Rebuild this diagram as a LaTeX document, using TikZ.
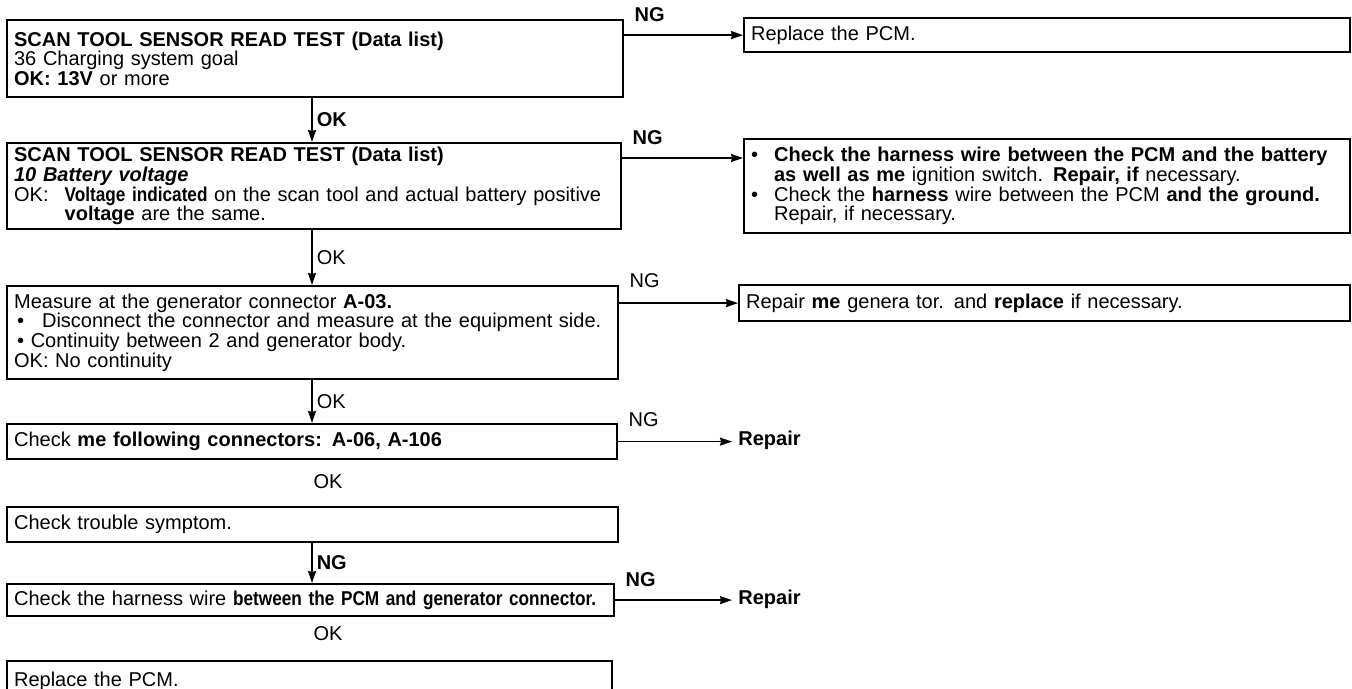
\documentclass[tikz,border=0pt]{standalone}
\usepackage{fontspec}
\setmainfont{Liberation Sans}
\newfontfamily\condfont{Liberation Sans}[FakeStretch=0.86]
\usepackage{tikz}
\usetikzlibrary{arrows.meta}

\newcommand{\cbf}[1]{{\condfont\bfseries #1}}

\begin{document}
\begin{tikzpicture}[
    x=0.5pt, y=-0.5pt,
    >=Stealth,
    every node/.style={font=\fontsize{10}{9.8}\selectfont},
    stepbox/.style={draw, line width=1.1pt, anchor=north west, align=left, inner xsep=3.5pt, inner ysep=0pt, text width=#1},
    ngtag/.style={anchor=base west, inner sep=0pt},
    oktag/.style={anchor=west, inner sep=2pt},
    repairtag/.style={anchor=west, inner sep=3pt},
    arr/.style={->, line width=0.75pt, >={Stealth[length=6pt, width=4pt, inset=0.5pt]}},
]
\useasboundingbox (0,0) rectangle (1352,689);

% === Left column: test steps (top to bottom) ===
\node[stepbox=301pt, minimum height=38.5pt] (scan1) at (6,19)
    {\textbf{SCAN TOOL SENSOR READ TEST (Data list)}\\36 Charging system goal\\\textbf{OK: 13V} or more};
\node[stepbox=300pt, minimum height=43pt] (scan2) at (6,142)
    {\textbf{SCAN TOOL SENSOR READ TEST (Data list)}\\\textbf{\textit{10 Battery voltage}}\\
     OK:\hspace{8pt}\cbf{Voltage indicated} on the scan tool and actual battery positive\\
     \hspace*{25.3pt}\textbf{voltage} are the same.};
\node[stepbox=298.5pt, minimum height=46.5pt] (gen) at (6,285)
    {Measure at the generator connector \textbf{A-03.}\\
     \hspace*{1.5pt}\textbullet\hspace{9pt}Disconnect the connector and measure at the equipment side.\\
     \hspace*{1.5pt}\textbullet\ Continuity between 2 and generator body.\\
     OK: No continuity};
\node[stepbox=298pt, minimum height=17.5pt] (conn) at (6,423)
    {Check \textbf{me following connectors: A-06, A-106}};
\node[stepbox=298.5pt, minimum height=17.5pt] (symp) at (6,506) {Check trouble symptom.};
\node[stepbox=296.5pt, minimum height=16pt] (harn) at (6,583)
    {\mbox{Check the harness wire \cbf{between the PCM and generator connector.}}};
\node[stepbox=295.5pt, minimum height=20pt] (pcm) at (6,660) {Replace the PCM.};

% === Right column: NG results ===
\node[stepbox=296pt, minimum height=17pt] (repl) at (743,17) {Replace the PCM.};
\node[stepbox=296pt, minimum height=47pt] (wire) at (743,138)
    {\textbullet\hspace{8pt}\textbf{Check the harness wire between the PCM and the battery}\\
     \hspace*{11.5pt}\textbf{as well as me} ignition switch. \textbf{Repair, if} necessary.\\
     \textbullet\hspace{8pt}Check the \textbf{harness} wire between the PCM \textbf{and the ground.}\\
     \hspace*{11.5pt}Repair, if necessary.};
\node[stepbox=298.5pt, minimum height=18pt] (gfix) at (738,284)
    {Repair \textbf{me} genera tor. and \textbf{replace} if necessary.};
\node[repairtag] (rep1) at (732,440.5) {\textbf{Repair}};
\node[repairtag] (rep2) at (732,599) {\textbf{Repair}};

% --- NG tags ---
\node[ngtag] (ng1) at ([xshift=5pt, yshift=-1.5pt]scan1.north east) {\textbf{NG}};
\node[ngtag] (ng2) at ([xshift=5pt, yshift=-1.5pt]scan2.north east) {\textbf{NG}};
\node[ngtag] (ng3) at ([xshift=5pt, yshift=-1.5pt]gen.north east) {NG};
\node[ngtag] (ng4) at ([xshift=5pt, yshift=-1.5pt]conn.north east) {NG};
\node[ngtag] (ng6) at ([xshift=5pt, yshift=-1.5pt]harn.north east) {\textbf{NG}};

% === NG arrows ===
\draw[arr] (repl.west -| scan1.east) -- (repl.west);
\draw[arr] ([yshift=-8pt]scan2.north east) -- ([yshift=-8pt]scan2.north east -| wire.west);
\draw[arr] (gfix.west -| gen.east) -- (gfix.west);
\draw[arr] (conn.east) -- (conn.east -| rep1.west);
\draw[arr] (harn.east) -- (harn.east -| rep2.west);

% === Main flow arrows ===
\coordinate (trunk) at (312,0);
\draw[arr] (scan1.south -| trunk) -- (scan2.north -| trunk) node[oktag, midway] {\textbf{OK}};
\draw[arr] (scan2.south -| trunk) -- (gen.north -| trunk) node[oktag, midway] {OK};
\draw[arr] (gen.south -| trunk) -- (conn.north -| trunk) node[oktag, midway] {OK};
\draw[arr] (symp.south -| trunk) -- (harn.north -| trunk) node[oktag, midway] {\textbf{NG}};

% --- OK without arrow ---
\node (ok4) at (328,482) {OK};
\node (ok6) at (328,634) {OK};

\end{tikzpicture}
\end{document}
